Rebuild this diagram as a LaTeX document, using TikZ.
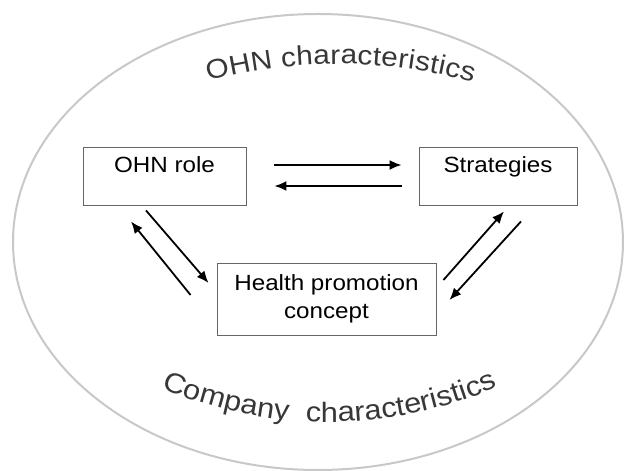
\documentclass[tikz,border=0pt]{standalone}
\usepackage{fontspec}
\setmainfont{Liberation Sans}[FakeStretch=1.1]
\usepackage{xcolor}
\usetikzlibrary{arrows.meta,decorations.text}
\definecolor{rimgrey}{RGB}{200,200,200}
\definecolor{textgrey}{RGB}{55,55,55}

\begin{document}
\begin{tikzpicture}[x=1pt,y=1pt,
        box/.style={draw=black!60, line width=0.9pt, inner sep=0pt, font=\fontsize{22}{28}\selectfont},
        flow/.style={line width=1.8pt, -{Latex[length=12pt,width=10pt]}}]
                \useasboundingbox (0,0) rectangle (625,471);
                \draw [rimgrey, line width=2pt] (318,229) ellipse [x radius=305, y radius=228];
                \node [box, minimum width=163pt, text height=26pt, text depth=32pt] (role) at (164.5,295) {OHN role};
                \node [box, minimum width=158pt, text height=26pt, text depth=32pt] (strat) at (498,295) {Strategies};
                \node [box, minimum width=219pt, minimum height=72pt, align=center] (hpc) at (326.5,172) {Health promotion\\concept};
                \path [decorate, decoration={text along path, text align={fit to path},
                    text={|\fontsize{27}{27}\selectfont\color{textgrey}|OHN characteristics}}]
                    (338,-101) ++(104.8:508) arc [start angle=104.8, end angle=74.6, radius=508];
                \path [decorate, decoration={text along path, text align={fit to path},
                    text={|\fontsize{28}{28}\selectfont\color{textgrey}|Company {~}characteristics}}]
                    (328,476) ++(247:427) arc [start angle=247, end angle=293, radius=427];
                \draw [flow] ([xshift=28pt,yshift=11pt]role.east) -- ([xshift=-17pt,yshift=11pt]strat.west);
                \draw [flow] ([xshift=-17pt,yshift=-10pt]strat.west) -- ([xshift=28pt,yshift=-10pt]role.east);
                \draw [flow] ([xshift=-18.5pt,yshift=-5pt]role.south) -- ([xshift=-8pt,yshift=16pt]hpc.west);
                \draw [flow] ([xshift=-26pt,yshift=4pt]hpc.west) -- ([xshift=-33.5pt,yshift=-16pt]role.south);
                \draw [flow] ([xshift=7pt,yshift=19pt]hpc.east) -- ([xshift=6pt,yshift=-6pt]strat.south);
                \draw [flow] ([xshift=23pt,yshift=-16pt]strat.south) -- ([xshift=13pt,yshift=-1pt]hpc.east);
            \end{tikzpicture}
\end{document}
